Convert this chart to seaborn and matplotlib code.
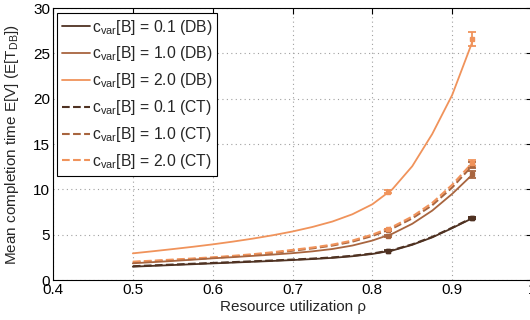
import numpy as np
import pandas as pd
import matplotlib
matplotlib.use("Agg")
import matplotlib.pyplot as plt
import seaborn as sns

# ---- data ----
rho = [0.5, 0.525, 0.55, 0.575, 0.6, 0.625, 0.65, 0.675, 0.7, 0.725,
       0.75, 0.775, 0.8, 0.825, 0.85, 0.875, 0.9, 0.925]
db_01 = [1.47, 1.56, 1.65, 1.74, 1.83, 1.92, 2.01, 2.1, 2.2, 2.31,
         2.44, 2.62, 2.87, 3.25, 3.88, 4.7, 5.72, 6.8]
db_10 = [1.84, 1.97, 2.1, 2.24, 2.39, 2.52, 2.66, 2.8, 2.96, 3.16,
         3.42, 3.8, 4.35, 5.1, 6.2, 7.65, 9.5, 11.6]
db_20 = [2.94, 3.17, 3.41, 3.66, 3.93, 4.23, 4.56, 4.93, 5.35, 5.85,
         6.45, 7.25, 8.35, 10.0, 12.55, 16.1, 20.4, 26.2]
ct_01 = [1.52, 1.61, 1.7, 1.79, 1.88, 1.97, 2.06, 2.15, 2.25, 2.36,
         2.49, 2.67, 2.92, 3.3, 3.93, 4.75, 5.77, 6.85]
ct_10 = [1.96, 2.07, 2.19, 2.31, 2.44, 2.59, 2.77, 2.98, 3.23, 3.49,
         3.8, 4.23, 4.86, 5.68, 6.8, 8.25, 10.2, 12.6]
ct_20 = [2.02, 2.13, 2.25, 2.37, 2.5, 2.66, 2.84, 3.06, 3.32, 3.58,
         3.9, 4.35, 5.0, 5.85, 7.0, 8.5, 10.5, 12.9]

labels = [r"c$_{\mathrm{var}}$[B] = 0.1 (DB)", r"c$_{\mathrm{var}}$[B] = 1.0 (DB)",
          r"c$_{\mathrm{var}}$[B] = 2.0 (DB)", r"c$_{\mathrm{var}}$[B] = 0.1 (CT)",
          r"c$_{\mathrm{var}}$[B] = 1.0 (CT)", r"c$_{\mathrm{var}}$[B] = 2.0 (CT)"]
series = [db_01, db_10, db_20, ct_01, ct_10, ct_20]

# simulation points with confidence intervals
sim_rho = [0.82, 0.925]
sim_db_01 = [3.2, 6.8]
sim_db_10 = [4.85, 11.65]
sim_db_20 = [9.75, 26.55]
sim_ct_01 = [3.25, 6.85]
sim_ct_10 = [5.5, 12.65]
sim_ct_20 = [5.6, 12.9]
sim_err_db_01 = [0.05, 0.12]
sim_err_db_10 = [0.08, 0.35]
sim_err_db_20 = [0.15, 0.75]
sim_err_ct_01 = [0.05, 0.12]
sim_err_ct_10 = [0.08, 0.35]
sim_err_ct_20 = [0.08, 0.35]
sims = [sim_db_01, sim_db_10, sim_db_20, sim_ct_01, sim_ct_10, sim_ct_20]
sim_errs = [sim_err_db_01, sim_err_db_10, sim_err_db_20, sim_err_ct_01, sim_err_ct_10, sim_err_ct_20]

x_ticks = [0.4, 0.5, 0.6, 0.7, 0.8, 0.9, 1.0]
y_ticks = [0, 5, 10, 15, 20, 25, 30]

# ---- style ----
sns.set_style("white")
plt.rcParams["font.family"] = ["Liberation Sans", "DejaVu Sans"]
plt.rcParams["mathtext.fontset"] = "custom"
plt.rcParams["mathtext.rm"] = "Liberation Sans"
plt.rcParams["mathtext.it"] = "Liberation Sans:italic"

colors = ["#4f3222", "#a8653f", "#f0935b", "#4f3222", "#a8653f", "#f0935b"]
styles = ["-", "-", "-", "--", "--", "--"]

fig = plt.figure(figsize=(5.3, 3.2), dpi=100)
ax = fig.add_axes([53 / 530, 40 / 320, 479 / 530, 272 / 320])

order = [3, 4, 5, 0, 1, 2]
handles = {}
for i in order:
    df = pd.DataFrame({"rho": rho, "E": series[i]})
    sns.lineplot(data=df, x="rho", y="E", ax=ax, color=colors[i], linestyle=styles[i],
                 linewidth=1.5 if styles[i] == "--" else 1.3, label=labels[i])
    handles[i] = ax.get_lines()[-1]
    ax.errorbar(sim_rho, sims[i], yerr=sim_errs[i], fmt="s", color=colors[i],
                markersize=2.8, capsize=3, elinewidth=1.3, capthick=1.3, zorder=3)

ax.set_xlim(0.4, 1.0)
ax.set_ylim(0, 30)
ax.set_xticks(x_ticks)
ax.set_xticklabels([f"{t:.1f}" if t < 1 else "1" for t in x_ticks])
ax.set_yticks(y_ticks)
ax.grid(True, linestyle=(0, (1, 3)), color="#a0a0a0", linewidth=0.8)
ax.tick_params(direction="in", top=True, right=True, length=4, width=0.8,
               labelsize=11, colors="black", pad=2)
for s in ax.spines.values():
    s.set_color("black")
    s.set_linewidth(0.8)

ax.set_xlabel("Resource utilization ρ", fontsize=11, labelpad=2)
ax.set_ylabel(r"Mean completion time E[V] (E[T$_{\mathrm{DB}}$])", fontsize=11, labelpad=9)

leg = ax.legend([handles[i] for i in range(6)], labels, loc="upper left",
                bbox_to_anchor=(0.008, 0.982), borderaxespad=0, fontsize=11.3,
                frameon=True, fancybox=False, edgecolor="black", framealpha=1,
                handlelength=1.8, handletextpad=0.12, labelspacing=0.5,
                borderpad=0.3)
leg.get_frame().set_linewidth(0.8)

fig.savefig("out.png", dpi=100)
